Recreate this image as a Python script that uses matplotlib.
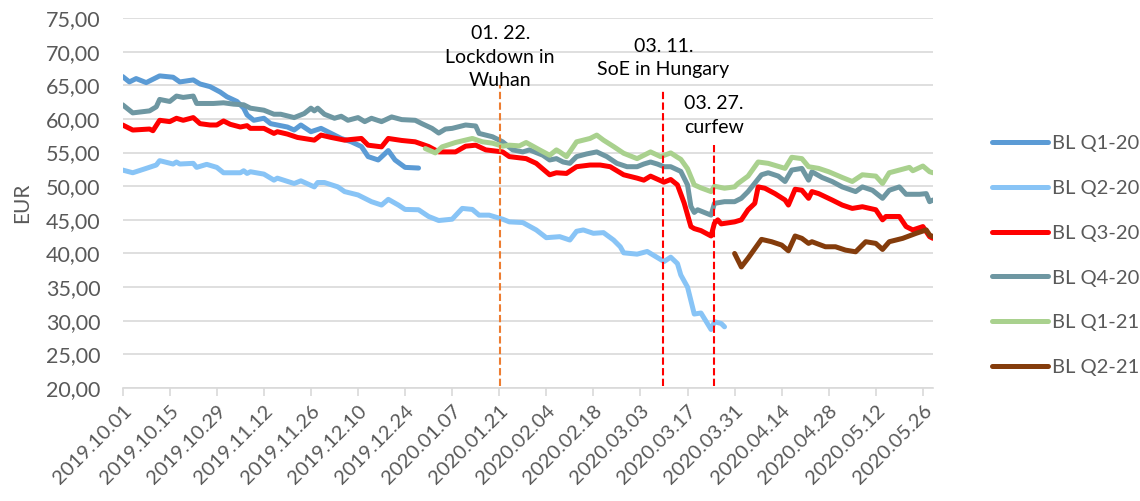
import matplotlib
matplotlib.use("Agg")
import matplotlib.pyplot as plt
import pandas as pd

plt.rcParams['font.family'] = ['Lato', 'DejaVu Sans']

start = pd.Timestamp('2019-10-01')

# days since 2019-10-01 and prices (EUR/MWh)
q1_20_day = [0, 2, 4, 7, 11, 15, 17, 21, 23, 26, 29, 31, 34, 36, 37, 39, 42, 44, 46, 49,
             51, 53, 56, 59, 61, 65, 68, 71, 73, 76, 79, 81, 84, 88]
q1_20_val = [66.3, 65.5, 66.0, 65.4, 66.4, 66.2, 65.5, 65.8, 65.2, 64.8, 64.0, 63.3, 62.6, 61.6,
             60.6, 59.8, 60.1, 59.3, 59.1, 58.8, 58.35, 59.1, 58.1, 58.6, 58.1, 57.1, 56.6, 55.9,
             54.4, 53.9, 55.3, 53.9, 52.8, 52.7]

q2_20_day = [0, 3, 7, 10, 11, 15, 16, 17, 21, 22, 25, 28, 30, 35, 36, 37, 38, 42, 45, 46, 51,
             53, 57, 58, 60, 64, 66, 70, 74, 77, 79, 82, 84, 88, 91, 94, 98, 101, 104, 106, 109,
             113, 115, 119, 123, 126, 130, 133, 135, 137, 140, 143, 146, 148, 149, 153, 156,
             159, 161, 163, 165, 166, 168, 170, 172, 175, 176, 178, 179]
q2_20_val = [52.4, 52.0, 52.65, 53.15, 53.8, 53.3, 53.6, 53.3, 53.4, 52.8, 53.25, 52.8, 52.0,
             52.0, 52.3, 51.9, 52.15, 51.8, 50.9, 51.2, 50.4, 50.8, 49.9, 50.55, 50.55, 49.9,
             49.2, 48.7, 47.7, 47.2, 48.05, 47.2, 46.55, 46.5, 45.5, 44.9, 45.1, 46.7, 46.55,
             45.7, 45.7, 45.1, 44.7, 44.6, 43.5, 42.35, 42.5, 42.0, 43.3, 43.5, 43.0, 43.1, 42.0,
             41.0, 40.1, 39.9, 40.3, 39.4, 38.8, 39.45, 38.5, 36.8, 35.0, 31.0, 31.15, 28.7,
             29.85, 29.6, 29.1]

q3_20_day = [0, 3, 8, 9, 11, 14, 16, 18, 21, 23, 26, 28, 30, 32, 35, 37, 38, 42, 45, 46, 49,
             52, 57, 59, 62, 66, 71, 73, 77, 79, 83, 87, 91, 94, 99, 102, 105, 108, 113, 115,
             120, 123, 127, 129, 132, 135, 139, 142, 145, 149, 153, 155, 157, 161, 163, 165,
             167, 169, 170, 172, 175, 176, 177, 178, 182, 184, 186, 188, 189, 191, 194, 197,
             198, 200, 202, 204, 205, 207, 211, 214, 217, 220, 224, 226, 227, 231, 233, 235,
             238, 240, 241]
q3_20_val = [59.1, 58.35, 58.5, 58.25, 59.8, 59.6, 60.1, 59.8, 60.2, 59.3, 59.1, 59.1, 59.7,
             59.2, 58.8, 59.0, 58.6, 58.6, 57.85, 58.1, 57.75, 57.25, 56.85, 57.6, 57.25, 56.85,
             57.1, 56.1, 55.85, 57.1, 56.8, 56.6, 55.9, 55.1, 55.1, 55.95, 56.1, 55.4, 55.1,
             54.4, 54.1, 53.4, 51.7, 52.0, 51.9, 52.9, 53.15, 53.15, 52.9, 51.7, 51.2, 50.9,
             51.5, 50.6, 51.0, 50.2, 47.5, 44.0, 43.7, 43.4, 42.6, 44.5, 45.0, 44.4, 44.7, 45.0,
             46.5, 47.45, 49.9, 49.7, 48.9, 47.95, 47.2, 49.55, 49.4, 48.2, 49.2, 48.9, 47.95,
             47.2, 46.7, 46.95, 46.5, 45.0, 45.5, 45.5, 44.0, 43.5, 44.0, 42.5, 42.25]

q4_20_day = [0, 3, 8, 10, 11, 14, 16, 18, 21, 22, 27, 30, 33, 36, 38, 42, 45, 47, 51, 54, 56,
             57, 58, 60, 63, 65, 67, 70, 72, 74, 77, 80, 83, 87, 89, 92, 94, 96, 98, 102, 105,
             106, 110, 113, 116, 119, 121, 125, 127, 129, 131, 133, 135, 138, 141, 144, 147,
             150, 153, 155, 157, 159, 161, 163, 166, 168, 169, 170, 171, 175, 176, 179, 182,
             184, 186, 190, 192, 195, 197, 199, 202, 204, 205, 208, 211, 214, 218, 220, 223,
             226, 228, 231, 233, 237, 239, 240, 241]
q4_20_val = [62.1, 60.9, 61.2, 61.8, 62.9, 62.6, 63.4, 63.2, 63.4, 62.3, 62.3, 62.4, 62.2, 62.1,
             61.6, 61.3, 60.7, 60.7, 60.2, 60.8, 61.6, 61.2, 61.6, 60.7, 60.1, 60.4, 59.8, 60.2,
             59.6, 60.1, 59.6, 60.3, 59.9, 59.8, 59.3, 58.6, 57.9, 58.5, 58.6, 59.1, 58.95,
             57.85, 57.35, 56.6, 55.4, 55.1, 55.4, 54.6, 53.9, 54.1, 53.6, 53.4, 54.4, 54.8,
             55.1, 54.4, 53.4, 52.9, 52.9, 53.3, 53.6, 53.3, 52.9, 52.9, 52.2, 50.2, 47.0, 46.1,
             46.5, 45.7, 47.45, 47.7, 47.7, 48.2, 49.2, 51.7, 52.0, 51.5, 50.7, 52.4, 52.65,
             50.9, 52.15, 51.3, 50.7, 49.9, 49.2, 49.9, 49.4, 48.2, 49.4, 49.9, 48.8, 48.8,
             48.9, 47.7, 47.95]

q1_21_day = [90, 93, 95, 99, 104, 107, 110, 113, 115, 118, 120, 124, 127, 129, 130, 132, 135,
             139, 141, 143, 146, 149, 153, 155, 157, 160, 163, 165, 166, 168, 170, 172, 175,
             176, 179, 182, 183, 186, 189, 192, 197, 199, 202, 204, 207, 210, 214, 217, 220,
             224, 226, 228, 231, 234, 235, 238, 240, 241]
q1_21_val = [55.6, 54.95, 55.85, 56.5, 57.1, 56.6, 56.4, 55.95, 56.1, 56.0, 56.5, 55.4, 54.6,
             55.4, 55.1, 54.4, 56.6, 57.1, 57.6, 56.85, 55.9, 54.9, 54.1, 54.6, 55.1, 54.4,
             54.95, 54.3, 54.0, 52.6, 50.2, 49.75, 49.2, 50.0, 49.7, 49.9, 50.4, 51.5, 53.6,
             53.4, 52.65, 54.3, 54.1, 52.9, 52.65, 52.15, 51.3, 50.7, 51.7, 51.5, 50.4, 52.0,
             52.4, 52.8, 52.3, 53.0, 52.15, 52.0]

q2_21_day = [182, 184, 186, 190, 193, 196, 198, 200, 202, 204, 205, 209, 212, 215, 218, 221,
             224, 226, 228, 232, 236, 239, 240, 241]
q2_21_val = [40.0, 38.0, 39.3, 42.1, 41.75, 41.25, 40.4, 42.6, 42.25, 41.5, 41.75, 41.0, 41.0,
             40.5, 40.25, 41.75, 41.5, 40.6, 41.75, 42.25, 43.0, 43.5, 42.75, 42.5]

series = [
    ('BL Q1-20', q1_20_day, q1_20_val, '#5B9BD5'),
    ('BL Q2-20', q2_20_day, q2_20_val, '#88C4F6'),
    ('BL Q3-20', q3_20_day, q3_20_val, '#FF0000'),
    ('BL Q4-20', q4_20_day, q4_20_val, '#6E97A2'),
    ('BL Q1-21', q1_21_day, q1_21_val, '#A9D18E'),
    ('BL Q2-21', q2_21_day, q2_21_val, '#843C0C'),
]

# event markers (placed where the chart draws them)
event_days = [112.3, 160.8, 175.8]
event_labels = ['01. 22.\nLockdown in\nWuhan', '03. 11.\nSoE in Hungary', '03. 27.\ncurfew']
event_colors = ['#ED7D31', '#FF0000', '#FF0000']
event_top = [65.0, 64.3, 56.1]
event_text_y = [69.2, 69.1, 60.5]

gray = '#595959'
grid = '#D9D9D9'

fig = plt.figure(figsize=(11.4, 5.01), dpi=100)
ax = fig.add_axes([0.1076, 0.2255, 0.7108, 0.7385])

for name, d, v, c in series:
    x = start + pd.to_timedelta(d, unit='D')
    ax.plot(x, v, color=c, lw=3.6, label=name, solid_capstyle='round', solid_joinstyle='round')

for d, lab, c, top, ty in zip(event_days, event_labels, event_colors, event_top, event_text_y):
    xd = start + pd.to_timedelta(d, unit='D')
    ax.plot([xd, xd], [20.3, top], color=c, lw=1.5, dashes=(3.5, 1.6), zorder=5)
    ax.text(xd, ty, lab, ha='center', va='center', fontsize=14, color='black',
            linespacing=1.45, zorder=6)

ax.set_xlim(start, start + pd.Timedelta(days=241))
ax.set_ylim(20, 75)
ax.set_yticks(range(20, 76, 5))
ax.set_yticklabels([f'{t:.2f}'.replace('.', ',') for t in range(20, 76, 5)])
ax.grid(axis='y', color=grid, lw=1.2)
ax.set_axisbelow(True)

ticks = pd.date_range('2019-10-01', '2020-05-26', freq='14D')
ax.set_xticks(ticks)
ax.set_xticklabels([t.strftime('%Y.%m.%d') for t in ticks], rotation=45, ha='right',
                   rotation_mode='anchor')

for s in ['top', 'right', 'left']:
    ax.spines[s].set_visible(False)
ax.spines['bottom'].set_color(grid)
ax.spines['bottom'].set_linewidth(1.2)
ax.tick_params(axis='x', colors=grid, labelcolor=gray, labelsize=14.5, length=6, width=1.2,
               pad=4)
ax.tick_params(axis='y', length=0, labelcolor=gray, labelsize=15.5, pad=16)

ax.set_ylabel('EUR', color=gray, fontsize=15)
ax.yaxis.set_label_coords(-0.112, 0.5)

ax.legend(loc='upper left', bbox_to_anchor=(0.87, 0.731), bbox_transform=fig.transFigure,
          frameon=False, fontsize=14.5, handlelength=2.8, handletextpad=0.2,
          labelspacing=1.38, borderpad=0, borderaxespad=0, labelcolor=gray)

fig.savefig('out.png', dpi=100)
